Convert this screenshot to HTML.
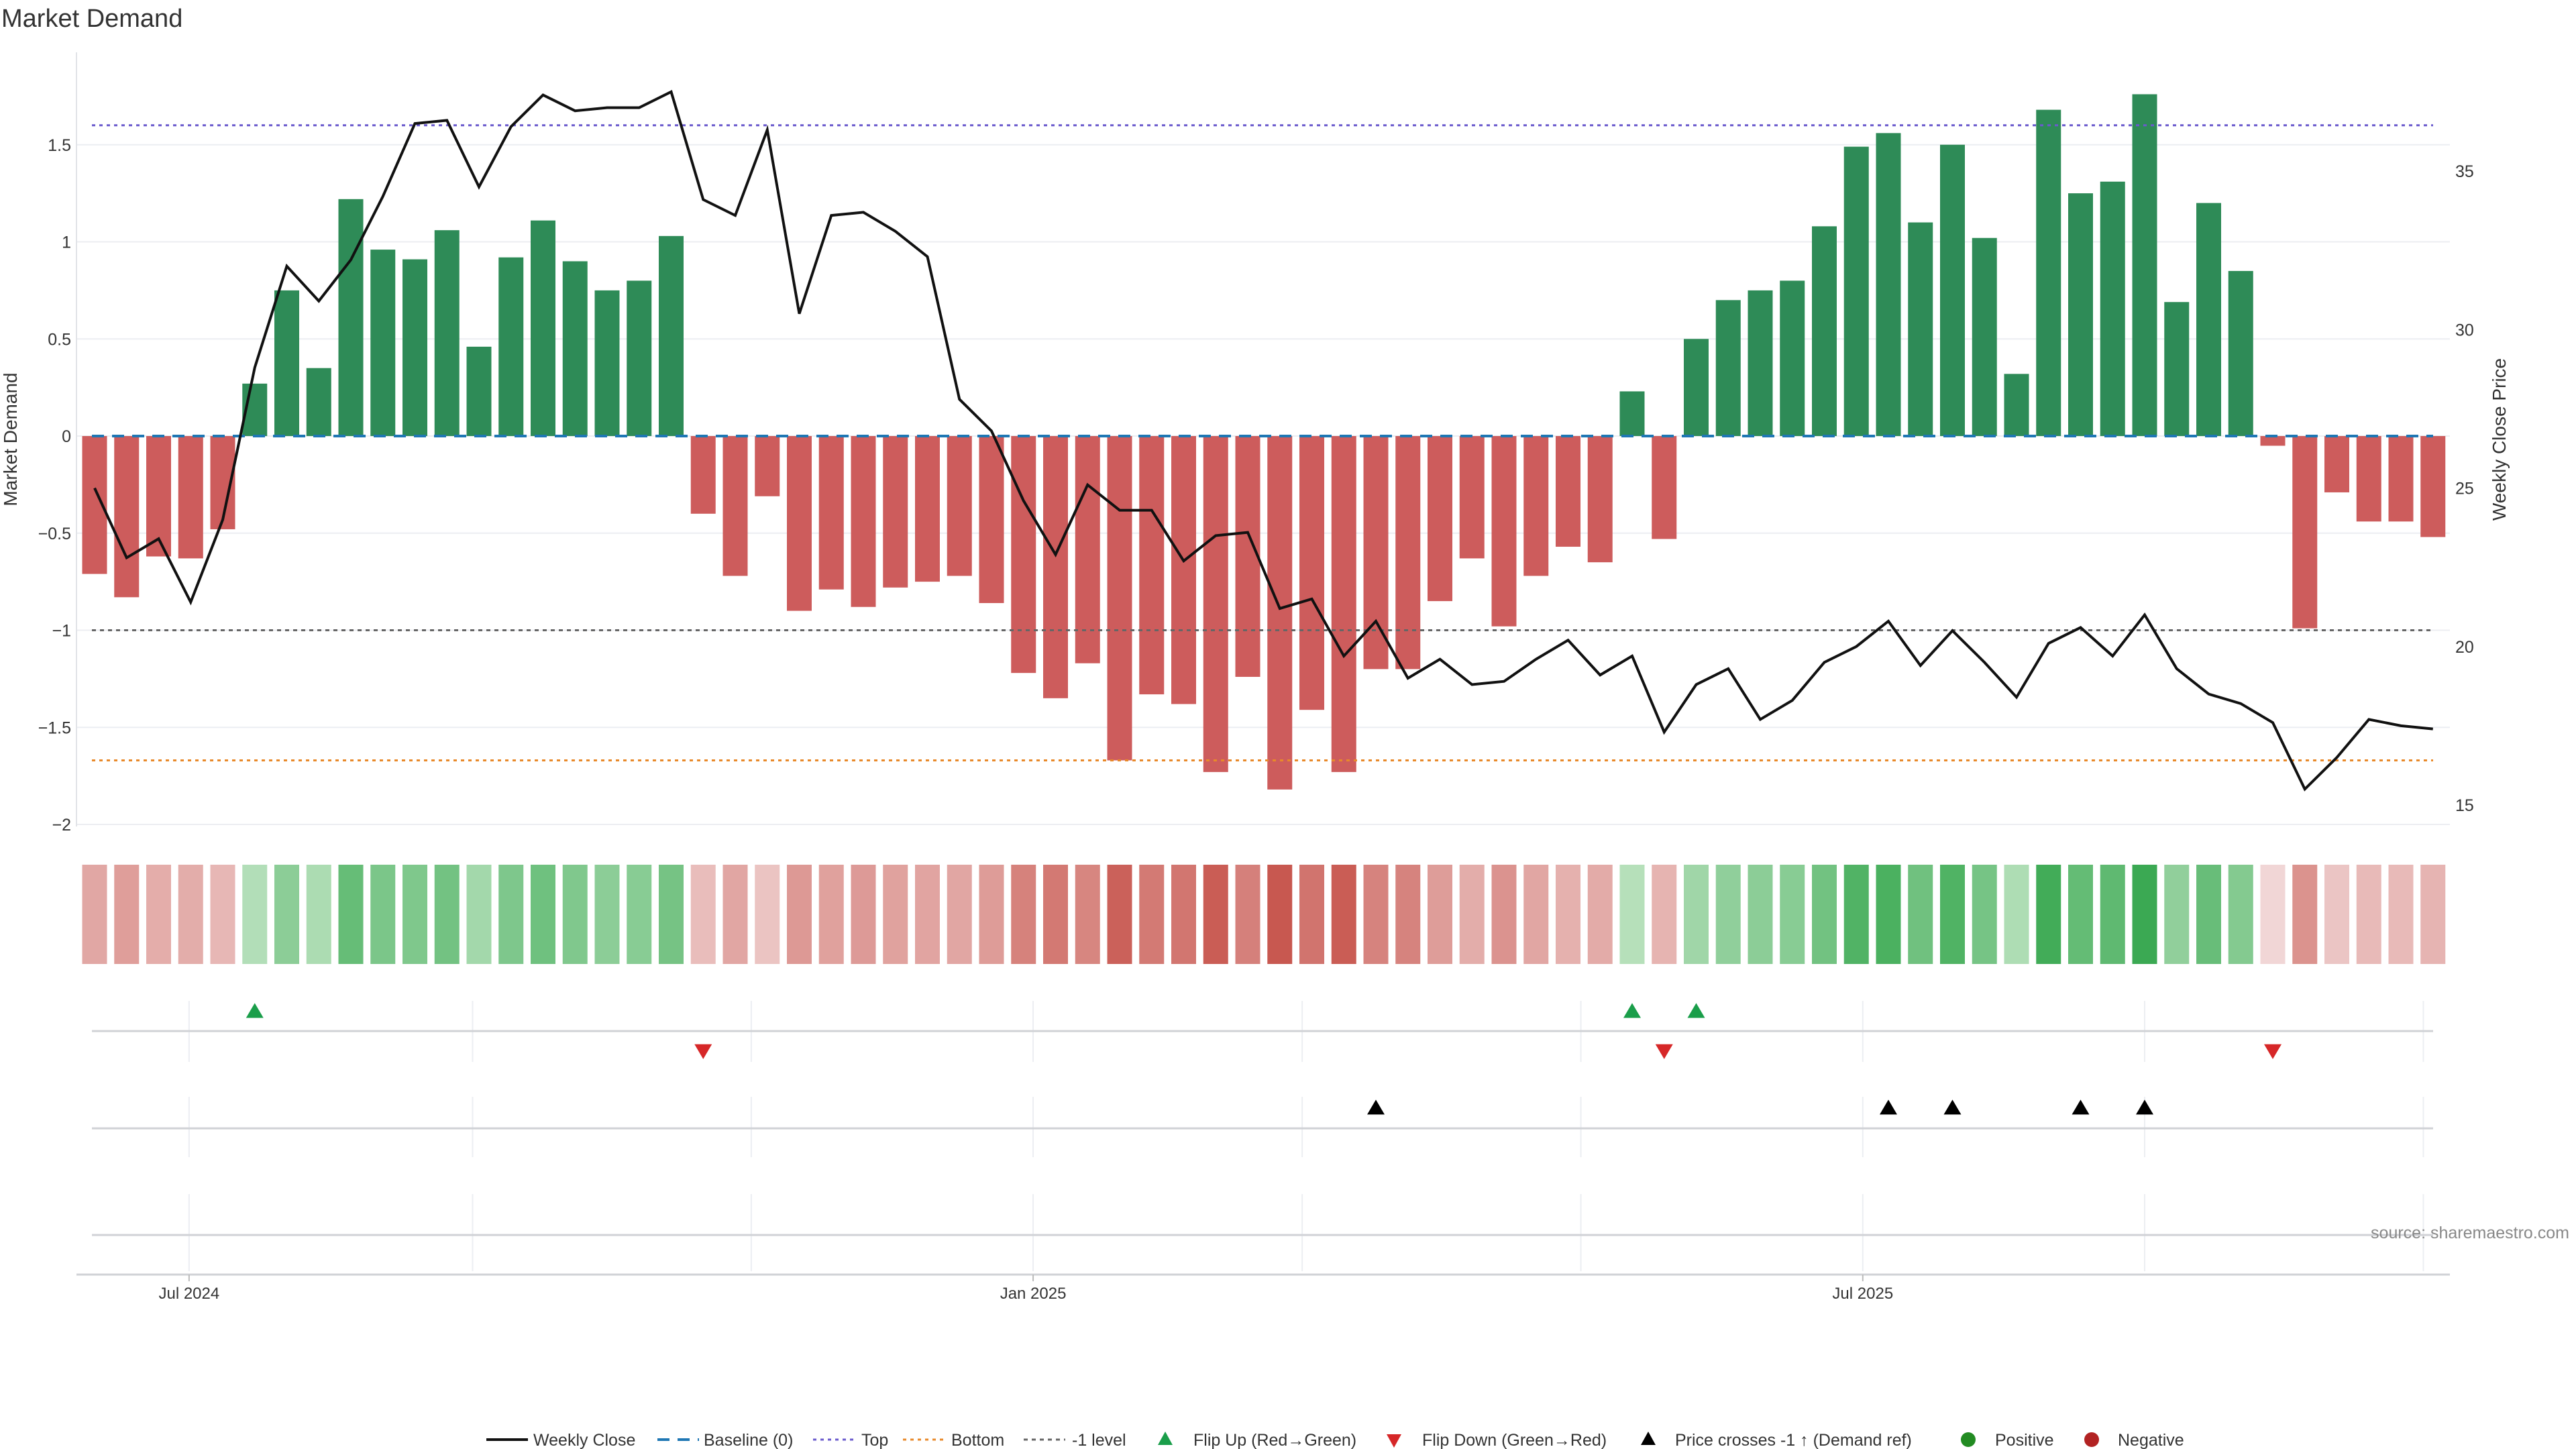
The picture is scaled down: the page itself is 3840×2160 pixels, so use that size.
<!DOCTYPE html>
<html><head><meta charset="utf-8"><style>
html,body{margin:0;padding:0;background:#fff;}
svg{display:block;font-family:"Liberation Sans","DejaVu Sans",sans-serif;}
</style></head><body>
<svg id="chart" width="3840" height="2160" viewBox="0 0 3840 2160" xmlns="http://www.w3.org/2000/svg">
<text x="2" y="40" font-size="38" fill="#333">Market Demand</text>
<g id="grid"></g><g id="bars"></g><g id="lines"></g><g id="heat"></g><g id="events"></g><g id="axes"></g><g id="legend"></g>
<text x="3830" y="1846" font-size="25" fill="#888" text-anchor="end">source: sharemaestro.com</text>
</svg>
<script>
const demand=[-0.71,-0.83,-0.62,-0.63,-0.48,0.27,0.75,0.35,1.22,0.96,0.91,1.06,0.46,0.92,1.11,0.90,0.75,0.80,1.03,-0.40,-0.72,-0.31,-0.90,-0.79,-0.88,-0.78,-0.75,-0.72,-0.86,-1.22,-1.35,-1.17,-1.67,-1.33,-1.38,-1.73,-1.24,-1.82,-1.41,-1.73,-1.20,-1.20,-0.85,-0.63,-0.98,-0.72,-0.57,-0.65,0.23,-0.53,0.50,0.70,0.75,0.80,1.08,1.49,1.56,1.10,1.50,1.02,0.32,1.68,1.25,1.31,1.76,0.69,1.20,0.85,-0.05,-0.99,-0.29,-0.44,-0.44,-0.52];
const price=[25.0,22.8,23.4,21.4,24.0,28.8,32.0,30.9,32.2,34.2,36.5,36.6,34.5,36.4,37.4,36.9,37.0,37.0,37.5,34.1,33.6,36.3,30.5,33.6,33.7,33.1,32.3,27.8,26.8,24.6,22.9,25.1,24.3,24.3,22.7,23.5,23.6,21.2,21.5,19.7,20.8,19.0,19.6,18.8,18.9,19.6,20.2,19.1,19.7,17.3,18.8,19.3,17.7,18.3,19.5,20.0,20.8,19.4,20.5,19.5,18.4,20.1,20.6,19.7,21.0,19.3,18.5,18.2,17.6,15.5,16.5,17.7,17.5,17.4];
const flipUp=[5,48,50];
const flipDown=[19,49,68];
const crosses=[40,56,58,62,64];
const leftTicks=[1.5,1,0.5,0,-0.5,-1,-1.5,-2];
const leftTickLabels=["1.5","1","0.5","0","\u22120.5","\u22121","\u22121.5","\u22122"];
const rightTicks=[15,20,25,30,35];
const topLevel=1.6, bottomLevel=-1.67, minusOne=-1;
const dateTicks=["Jul 2024","Jan 2025","Jul 2025"];
const dateTickIdx=[2.95,29.3,55.2];
const monthGridIdx=[2.95,11.8,20.5,29.3,37.7,46.4,55.2,64.0,72.7];

const NS="http://www.w3.org/2000/svg";
const X=i=>141+i*47.75;
const YD=v=>650-v*289.5;
const YP=p=>1200-(p-15)*47.25;
const L=114,R=3652,BW=37;
function mk(tag,attrs,parent){const e=document.createElementNS(NS,tag);for(const k in attrs)e.setAttribute(k,attrs[k]);document.getElementById(parent).appendChild(e);return e;}

leftTicks.forEach((t,k)=>{
  const g=mk('line',{x1:L,x2:R,y1:YD(t),y2:YD(t),stroke:'#eceef2','stroke-width':2},'grid');
  
  
  const tx=mk('text',{x:106,y:YD(t)+9,'font-size':25,fill:'#333','text-anchor':'end'},'axes');
  tx.textContent=leftTickLabels[k];
  
  
});
rightTicks.forEach(t=>{
  const tx=mk('text',{x:3660,y:YP(t)+9,'font-size':25,fill:'#333'},'axes');
  tx.textContent=String(t);
  
  
});
let ax=mk('line',{x1:L,x2:L,y1:78,y2:1232,stroke:'#e2e4e8','stroke-width':2},'axes');


let yt=mk('text',{x:0,y:0,'font-size':28,fill:'#333','text-anchor':'middle',transform:'translate(25,655) rotate(-90)'},'axes');
yt.textContent='Market Demand';


let yt2=mk('text',{x:0,y:0,'font-size':28,fill:'#333','text-anchor':'middle',transform:'translate(3735,655) rotate(-90)'},'axes');
yt2.textContent='Weekly Close Price';



demand.forEach((v,i)=>{
  const y0=YD(0),y1=YD(v);
  const b=mk('rect',{x:X(i)-BW/2,y:Math.min(y0,y1),width:BW,height:Math.abs(y1-y0),fill:v>=0?'#2e8b57':'#cd5c5c'},'bars');
  
  
});
function hline(v,color,dash,name,w){const e=mk('line',{x1:137,x2:3627,y1:YD(v),y2:YD(v),stroke:color,'stroke-width':w||3,'stroke-dasharray':dash},'lines');}
hline(0,'#1f77b4','18 12','baseline-line',4);
hline(topLevel,'#6a5acd','5 6','top-line');
hline(bottomLevel,'#e8892a','5 6','bottom-line');
hline(minusOne,'#666','6 6','minus-one-line');
const pl=mk('polyline',{points:price.map((p,i)=>X(i)+','+YP(p)).join(' '),fill:'none',stroke:'#111','stroke-width':4,'stroke-linejoin':'miter'},'lines');



function mix(a,b,t){return 'rgb('+a.map((c,k)=>Math.round(c+(b[k]-c)*t)).join(',')+')';}
demand.forEach((v,i)=>{
  const t=Math.min(1,Math.abs(v)/1.8);
  const c=v>=0?mix([200,232,202],[56,168,80],t):mix([242,218,218],[200,88,80],t);
  const r=mk('rect',{x:X(i)-BW/2,y:1289,width:BW,height:148,fill:c},'heat');
  
  
});

monthGridIdx.forEach(m=>{
  [[1492,1583],[1635,1725],[1780,1895]].forEach(([a,b])=>{
    const g=mk('line',{x1:X(m),x2:X(m),y1:a,y2:b,stroke:'#eceef2','stroke-width':2},'grid');
    
    
  });
});
[1537,1682,1841].forEach(y=>{
  const g=mk('line',{x1:137,x2:3627,y1:y,y2:y,stroke:'#d0d2d6','stroke-width':3},'events');
  
  
});
function tri(cx,cy,up,color,name){
  const s=13;
  const pts=up?`${cx-s},${cy+s*0.8} ${cx+s},${cy+s*0.8} ${cx},${cy-s*0.9}`:`${cx-s},${cy-s*0.8} ${cx+s},${cy-s*0.8} ${cx},${cy+s*0.9}`;
  const p=mk('polygon',{points:pts,fill:color},'events');
  
  
}
flipUp.forEach(i=>tri(X(i),1507,true,'#1a9e4a','flip-up-marker'));
flipDown.forEach(i=>tri(X(i),1567,false,'#d62728','flip-down-marker'));
crosses.forEach(i=>tri(X(i),1651,true,'#000','price-cross-marker'));

let xa=mk('line',{x1:L,x2:R,y1:1900,y2:1900,stroke:'#d0d2d6','stroke-width':3},'axes');


dateTicks.forEach((d,k)=>{
  const x=X(dateTickIdx[k]);
  const tk=mk('line',{x1:x,x2:x,y1:1900,y2:1910,stroke:'#bbb','stroke-width':2},'axes');
  
  
  const t=mk('text',{x:x,y:1936,'font-size':24,fill:'#333','text-anchor':'middle'},'axes');
  t.textContent=d;
  
  
});

const ly=2146;
function ltext(x,s){const t=mk('text',{x:x,y:ly+9,'font-size':25,fill:'#333'},'legend');t.textContent=s;}
function lline(x,color,dash,w){const l=mk('line',{x1:x,x2:x+62,y1:ly,y2:ly,stroke:color,'stroke-width':w,'stroke-dasharray':dash||'none'},'legend');}
lline(725,'#111','',4);ltext(795,'Weekly Close');
lline(980,'#1f77b4','18 12',4);ltext(1049,'Baseline (0)');
lline(1212,'#6a5acd','5 6',3);ltext(1284,'Top');
lline(1346,'#e8892a','5 6',3);ltext(1418,'Bottom');
lline(1526,'#666','6 6',3);ltext(1598,'-1 level');
function ltri(x,up,color){const s=11;const pts=up?`${x-s},${ly+8} ${x+s},${ly+8} ${x},${ly-12}`:`${x-s},${ly-8} ${x+s},${ly-8} ${x},${ly+12}`;const p=mk('polygon',{points:pts,fill:color},'legend');}
ltri(1737,true,'#1a9e4a');ltext(1779,'Flip Up (Red\u2192Green)');
ltri(2078,false,'#d62728');ltext(2120,'Flip Down (Green\u2192Red)');
ltri(2457,true,'#000');ltext(2497,'Price crosses -1 \u2191 (Demand ref)');
function lcirc(x,color){const c=mk('circle',{cx:x,cy:ly,r:11,fill:color},'legend');}
lcirc(2934,'#228b22');ltext(2974,'Positive');
lcirc(3118,'#b22222');ltext(3157,'Negative');
</script>
</body></html>
